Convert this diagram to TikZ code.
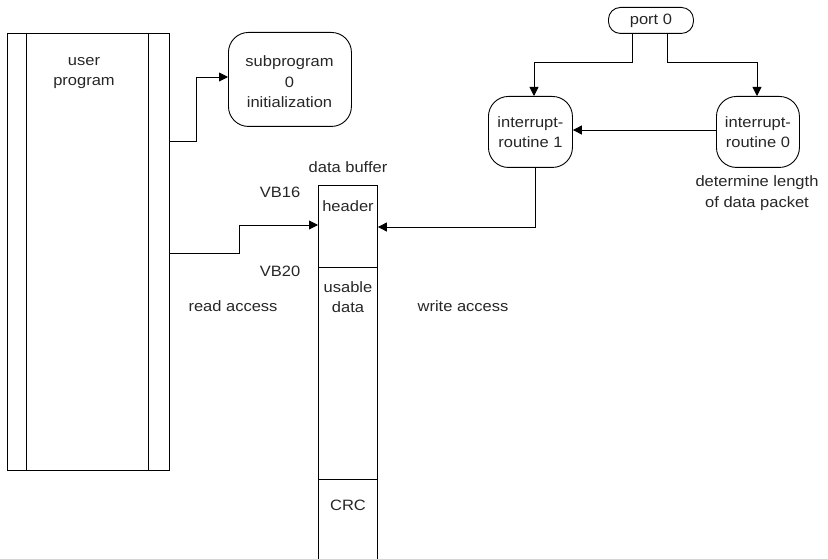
\documentclass[tikz,border=0pt]{standalone}
\usepackage{fontspec}
\setmainfont{Liberation Sans}[FakeStretch=1.1]
\usetikzlibrary{arrows.meta}
\begin{document}
\begin{tikzpicture}[x=1pt,y=-1pt,
  line width=0.9pt,
  every node/.style={font=\fontsize{15}{20.5}\selectfont, text=black!85, align=center, inner sep=0pt},
  box/.style={draw, rectangle, anchor=north west},
  rbox/.style={draw, rectangle, rounded corners=20pt, anchor=north west},
  cell/.style={rectangle, anchor=north west},
  arr/.style={-{Triangle[length=9pt,width=9pt]}},
  lbl/.style={}]
\useasboundingbox (0,0) rectangle (828,559);
% user program
\node[box, minimum width=162pt, minimum height=437pt] (up) at (7,33) {};
\draw (26,33) -- (26,470) (148,33) -- (148,470);
\node[lbl] (uplbl) at (84,73) {user\\program};
% subprogram
\node[rbox, minimum width=123pt, minimum height=94pt] (sub) at (228,32) {};
\node[lbl] (subt) at (289.5,82) {subprogram\\0\\initialization};
% data buffer
\node[cell, minimum width=59pt, minimum height=82pt] (hdr) at (318,185) {};
\node[cell, minimum width=59pt, minimum height=212pt] (dat) at (318,267) {};
\node[cell, minimum width=59pt, minimum height=90pt] (crc) at (318,479) {};
\draw (318,570) -- (318,185) -- (377,185) -- (377,570);
\draw (318,267) -- (377,267) (318,479) -- (377,479);
\node (hdrt) at (348,206) {header};
\node (datt) at (348,297) {usable\\data};
\node (crct) at (348,505) {CRC};
\node (dbuf) at (348,167) {data buffer};
\node (vb16) at (280,192) {VB16};
\node (vb20) at (280,271) {VB20};
\node (ra) at (233,306) {read access};
\node (wa) at (463,306) {write access};
% port and interrupt routines
\node[draw, rectangle, rounded corners=12pt, anchor=north west, minimum width=85pt, minimum height=26pt] (port) at (608,7) {port 0};
\node[rbox, minimum width=84pt, minimum height=71pt] (r1) at (488,96) {interrupt-\\routine 1};
\node[rbox, minimum width=83pt, minimum height=71pt] (r0) at (716,96) {interrupt-\\routine 0};
\node (det) at (757,193) {determine length\\of data packet};
% connectors
\coordinate (a1) at (169,141);
\draw[arr] (a1) -- (196,141) -- (196,77) -- (sub.west |- 0,77);
\coordinate (a2) at (169,253);
\draw[arr] (a2) -- (239,253) -- (239,225) -- (hdr.west |- 0,225);
\draw[arr] (r1.south -| 535,0) -- (535,227) -- (hdr.east |- 0,227);
\draw[arr] (port.south -| 632,0) -- (632,62) -- (534,62) -- (r1.north -| 534,0);
\draw[arr] (port.south -| 667,0) -- (667,62) -- (757,62) -- (r0.north -| 757,0);
\draw[arr] (r0.west |- 0,130) -- (r1.east |- 0,130);
\end{tikzpicture}
\end{document}
